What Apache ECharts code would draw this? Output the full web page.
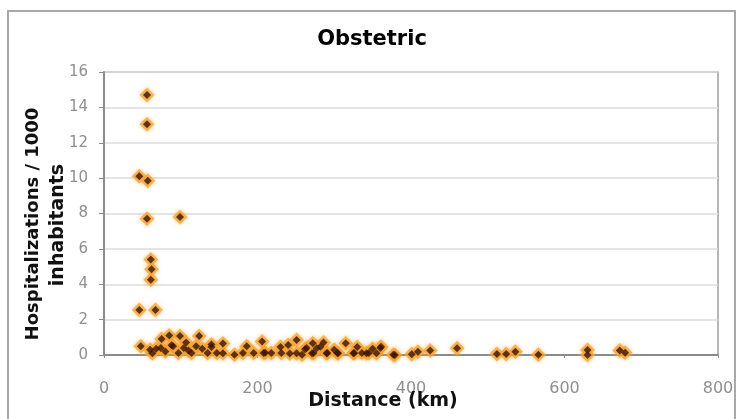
<!DOCTYPE html>
<html>
<head>
<meta charset="utf-8">
<script src="https://cdn.jsdelivr.net/npm/echarts@6/dist/echarts.min.js"></script>
<style>html,body{margin:0;padding:0;background:#fff}#c{width:738px;height:419px}</style>
</head>
<body>
<div id="c"></div>
<script>
var titleText = 'Obstetric';
var xTitle = 'Distance (km)';
var yTitleLine1 = 'Hospitalizations / 1000';
var yTitleLine2 = 'inhabitants';
var xTicks = [0, 200, 400, 600, 800];
var yTicks = [0, 2, 4, 6, 8, 10, 12, 14, 16];

var distance = [56, 56, 46, 57, 56, 99, 61, 62, 61, 46, 67,
  48, 63, 74, 75, 85, 99, 107, 124, 97, 114, 135, 147, 155, 170, 181, 195, 206, 208, 218, 231,
  242, 251, 258, 264, 272, 273, 282, 291, 304, 315, 326, 336, 345, 361, 377, 401, 409, 425, 460,
  512, 524, 536, 566, 630, 630, 672, 679,
  155, 210, 240, 251, 262, 271, 277, 290, 305, 325, 342, 355, 379, 360,
  186, 286, 140, 120, 90, 60, 230, 300, 330, 350, 68, 80, 88, 104, 110, 128, 140];
var rate = [14.7, 13.05, 10.1, 9.85, 7.7, 7.8, 5.4, 4.85, 4.25, 2.55, 2.55,
  0.5, 0.1, 0.4, 0.9, 1.1, 1.08, 0.7, 1.08, 0.12, 0.12, 0.12, 0.12, 0.65, 0.02, 0.12, 0.12, 0.76, 0.12, 0.12, 0.12,
  0.08, 0.85, 0.02, 0.4, 0.66, 0.12, 0.47, 0.12, 0.12, 0.66, 0.12, 0.12, 0.12, 0.47, 0.02, 0.04, 0.19, 0.25, 0.38,
  0.05, 0.05, 0.19, 0.02, 0.28, 0.0, 0.25, 0.13,
  0.1, 0.13, 0.57, 0.1, 0.32, 0.1, 0.38, 0.1, 0.1, 0.1, 0.1, 0.1, 0.0, 0.4,
  0.5, 0.7, 0.45, 0.5, 0.5, 0.3, 0.45, 0.3, 0.45, 0.35, 0.35, 0.2, 0.55, 0.4, 0.25, 0.35, 0.6];

var points = distance.map(function (d, i) { return [d, rate[i]]; });

var chart = echarts.init(document.getElementById('c'));
var font = 'DejaVu Sans';
chart.setOption({
  backgroundColor: '#fff',
  animation: false,
  grid: { left: 104, top: 72, right: 20, bottom: 64, show: true, borderColor: '#a0a0a0', borderWidth: 1.5, backgroundColor: 'transparent' },
  xAxis: {
    type: 'value', min: xTicks[0], max: xTicks[xTicks.length - 1], interval: 200,
    axisLine: { show: true, lineStyle: { color: '#8c8c8c', width: 2 } },
    axisTick: { show: true, length: 3, lineStyle: { color: '#8c8c8c' } },
    axisLabel: { color: '#8f8f8f', fontSize: 16, fontFamily: font, margin: 26 },
    splitLine: { show: false }
  },
  yAxis: {
    type: 'value', min: yTicks[0], max: yTicks[yTicks.length - 1], interval: 2,
    axisLine: { show: true, lineStyle: { color: '#8c8c8c', width: 2 } },
    axisTick: { show: true, length: 5, lineStyle: { color: '#8c8c8c' } },
    axisLabel: { color: '#8f8f8f', fontSize: 15, fontFamily: font, margin: 16 },
    splitLine: { show: true, lineStyle: { color: '#dcdcdc', width: 1.5 } }
  },
  series: [
    { type: 'scatter', data: points, symbol: 'diamond', symbolSize: 15,
      itemStyle: { color: 'rgba(247,160,40,0.9)', shadowBlur: 4, shadowColor: 'rgba(247,170,60,0.8)' }, z: 2 },
    { type: 'scatter', data: points, symbol: 'diamond', symbolSize: 8,
      itemStyle: { color: '#3a140a' }, z: 3 }
  ],
  graphic: [
    { type: 'rect', shape: { x: 8, y: 11, width: 727, height: 420 }, style: { fill: 'none', stroke: '#a8a8a8', lineWidth: 2 }, z: 10 },
    { type: 'text', x: 372, y: 40, style: { text: titleText, font: 'bold 21px "DejaVu Sans"', fill: '#000', align: 'center', verticalAlign: 'middle' }, z: 10 },
    { type: 'text', x: 383, y: 401, style: { text: xTitle, font: 'bold 19px "DejaVu Sans"', fill: '#111', align: 'center', verticalAlign: 'middle' }, z: 10 },
    { type: 'text', x: 33, y: 224, rotation: Math.PI / 2, style: { text: yTitleLine1, font: 'bold 18px "DejaVu Sans"', fill: '#111', align: 'center', verticalAlign: 'middle' }, z: 10 },
    { type: 'text', x: 58, y: 225, rotation: Math.PI / 2, style: { text: yTitleLine2, font: 'bold 19px "DejaVu Sans"', fill: '#111', align: 'center', verticalAlign: 'middle' }, z: 10 }
  ]
});
</script>
</body>
</html>
